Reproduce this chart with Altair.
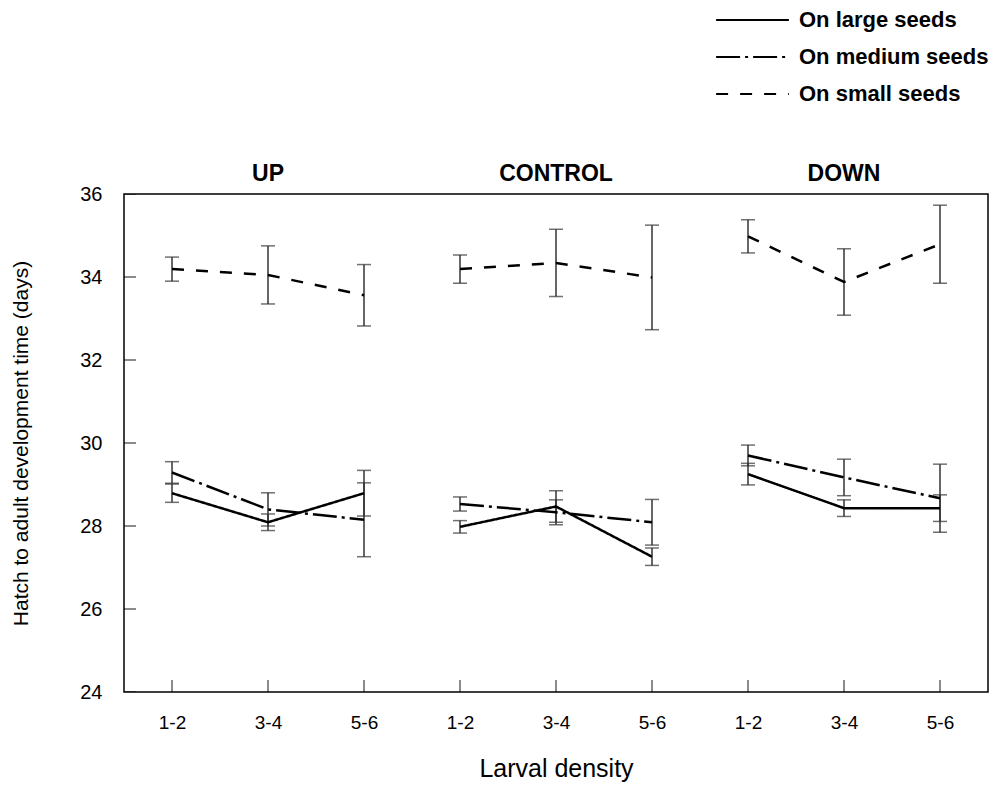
import altair as alt
import pandas as pd

groups = ["UP", "CONTROL", "DOWN"]
densities = ["1-2", "3-4", "5-6"]
series = ["On large seeds", "On medium seeds", "On small seeds"]

# order: UP(1-2,3-4,5-6), CONTROL(...), DOWN(...)
large_mean = [28.79, 28.09, 28.79, 27.98, 28.47, 27.26, 29.25, 28.43, 28.43]
large_err = [0.22, 0.20, 0.55, 0.15, 0.38, 0.21, 0.26, 0.20, 0.32]
medium_mean = [29.29, 28.40, 28.15, 28.53, 28.33, 28.09, 29.70, 29.17, 28.67]
medium_err = [0.26, 0.40, 0.89, 0.17, 0.30, 0.55, 0.25, 0.44, 0.82]
small_mean = [34.19, 34.05, 33.56, 34.19, 34.34, 33.99, 34.98, 33.88, 34.79]
small_err = [0.29, 0.70, 0.74, 0.34, 0.81, 1.26, 0.40, 0.80, 0.94]

y_ticks = [24, 26, 28, 30, 32, 34, 36]

FONT = "Liberation Sans"

keys = [f"{g}|{d}" for g in groups for d in densities]
rows = []
for s, means, errs in zip(series, [large_mean, medium_mean, small_mean],
                          [large_err, medium_err, small_err]):
    for i, k in enumerate(keys):
        rows.append({"series": s, "group": k.split("|")[0], "key": k,
                     "mean": means[i], "lo": means[i] - errs[i], "hi": means[i] + errs[i]})
df = pd.DataFrame(rows)

x_axis = alt.Axis(title="Larval density", labelExpr="split(datum.label, '|')[1]",
                  ticks=False, domain=False, grid=False, labelAngle=0,
                  labelPadding=21, labelFontSize=19, labelFont=FONT, labelColor="black",
                  titleFontSize=25, titleFont=FONT, titleFontWeight="normal",
                  titleColor="black", titlePadding=24)
x_scale = alt.Scale(type="point", padding=0.5, domain=keys)


def X(**kw):
    return alt.X("key:N", sort=keys, scale=x_scale, axis=x_axis, **kw)


y_scale = alt.Scale(domain=[24, 36], nice=False, zero=False)
y_axis = alt.Axis(title="Hatch to adult development time (days)", values=y_ticks,
                  ticks=False, domain=False, grid=False,
                  labelPadding=22, labelFontSize=20, labelFont=FONT, labelColor="black",
                  titleFontSize=21, titleFont=FONT, titleFontWeight="normal",
                  titleColor="black", titlePadding=48)


def Y(field):
    return alt.Y(field, scale=y_scale, axis=y_axis)


base = alt.Chart(df)

lines = base.mark_line(color="black", strokeWidth=2.5).encode(
    x=X(),
    y=Y("mean:Q"),
    strokeDash=alt.StrokeDash(
        "series:N",
        scale=alt.Scale(domain=series, range=[[1, 0], [24, 5, 3, 5], [12, 12]]),
        legend=alt.Legend(title=None, orient="none", legendX=591, legendY=-184,
                          symbolType="stroke", symbolSize=5300, symbolStrokeWidth=2,
                          symbolStrokeColor="black", clipHeight=20, rowPadding=15,
                          labelFontSize=22, labelFontWeight="bold", labelFont=FONT,
                          labelColor="black", labelOffset=9, labelLimit=0, padding=0),
    ),
    detail="group:N",
)

err_rule = base.mark_rule(color="#333333", strokeWidth=1.5).encode(
    x=X(), y=Y("lo:Q"), y2="hi:Q")
cap_lo = base.mark_tick(color="#333333", thickness=1.5, size=14, orient="horizontal").encode(
    x=X(), y=Y("lo:Q"))
cap_hi = base.mark_tick(color="#333333", thickness=1.5, size=14, orient="horizontal").encode(
    x=X(), y=Y("hi:Q"))

xt = alt.Chart(pd.DataFrame({"key": keys})).mark_tick(
    orient="vertical", size=24, thickness=1.3, color="black", clip=True).encode(
    x=X(), y=alt.Y("v:Q", scale=y_scale, axis=y_axis)).transform_calculate(v=str(y_ticks[0]))

yt = alt.Chart(pd.DataFrame({"v": y_ticks})).mark_tick(
    orient="horizontal", size=24, thickness=1.3, color="black", clip=True).encode(
    y=Y("v:Q"), x=alt.value(0))

titles_df = pd.DataFrame({"group": groups, "key": [f"{g}|{densities[1]}" for g in groups]})
titles = alt.Chart(titles_df).mark_text(fontSize=23, fontWeight="bold", font=FONT,
                                        color="black", baseline="middle").encode(
    x=X(), y=alt.value(-20), text="group:N")

chart = alt.layer(err_rule, cap_lo, cap_hi, lines, xt, yt, titles).properties(
    width=864, height=498,
    autosize=alt.AutoSizeParams(type="none"),
    padding={"left": 124, "top": 194, "right": 10, "bottom": 100},
    background="white",
).configure_view(stroke="black", strokeWidth=1.5)

chart.save("out.html", embed_options={"renderer": "svg", "actions": False})
